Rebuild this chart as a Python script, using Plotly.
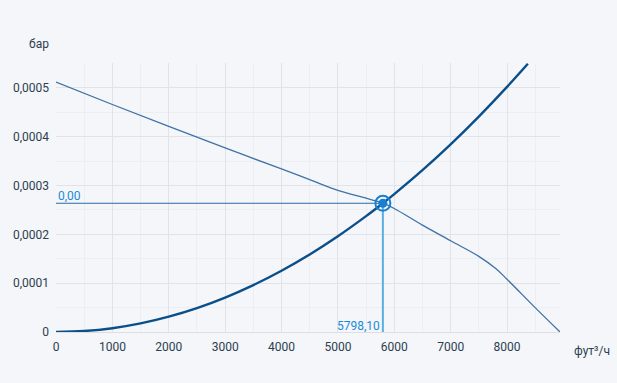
import plotly.graph_objects as go

# Pump curve (flow ft3/h, pressure bar)
pump_x = [0, 1000, 2000, 3000, 4000, 4500, 5000, 5500, 5798.1, 6000, 6500, 7000, 7500, 7800, 8000, 8500, 8940]
pump_y = [0.000512, 0.000466, 0.000421, 0.000377, 0.000334, 0.000312, 0.000290, 0.000274, 0.000264,
          0.000253, 0.000219, 0.000187, 0.000155, 0.000130, 0.000108, 0.000050, 0.0]

# System curve
sys_x = [0, 500, 1000, 1500, 2000, 2500, 3000, 3500, 4000, 4500, 5000, 5500, 5798.1,
         6000, 6500, 7000, 7500, 8000, 8370]
sys_y = [0.0, 0.0000020, 0.0000078, 0.0000176, 0.0000314, 0.0000490, 0.0000706, 0.0000961,
         0.0001255, 0.0001588, 0.0001961, 0.0002373, 0.0002637, 0.0002824, 0.0003314,
         0.0003843, 0.0004412, 0.0005020, 0.0005494]

op_x = 5798.1
op_y = 0.0002637
op_x_label = "5798,10"
op_y_label = "0,00"

y_tick_vals = [0, 0.0001, 0.0002, 0.0003, 0.0004, 0.0005]
y_tick_text = ["0", "0,0001", "0,0002", "0,0003", "0,0004", "0,0005"]
x_tick_vals = [0, 1000, 2000, 3000, 4000, 5000, 6000, 7000, 8000]
x_tick_text = ["0", "1000", "2000", "3000", "4000", "5000", "6000", "7000", "8000"]

x_range = [0, 8940]
y_range = [0, 0.000551]

fig = go.Figure()
fig.add_trace(go.Scatter(x=pump_x, y=pump_y, mode="lines",
                         line=dict(color="#3f72a6", width=1.3, shape="spline", smoothing=1.0),
                         hoverinfo="skip", showlegend=False))
fig.add_trace(go.Scatter(x=sys_x, y=sys_y, mode="lines",
                         line=dict(color="#0b4f8a", width=2.4, shape="spline"),
                         hoverinfo="skip", showlegend=False))
# horizontal guide
fig.add_trace(go.Scatter(x=[0, op_x], y=[op_y, op_y], mode="lines",
                         line=dict(color="#2a6aa8", width=1), showlegend=False, hoverinfo="skip"))
# vertical guide
fig.add_trace(go.Scatter(x=[op_x, op_x], y=[0, op_y], mode="lines",
                         line=dict(color="#5aaee0", width=2), showlegend=False, hoverinfo="skip"))
# operating point
fig.add_trace(go.Scatter(x=[op_x], y=[op_y], mode="markers",
                         marker=dict(size=15, color="rgba(0,0,0,0)",
                                     line=dict(color="#1a7fd0", width=2)),
                         showlegend=False, hoverinfo="skip"))
fig.add_trace(go.Scatter(x=[op_x], y=[op_y], mode="markers",
                         marker=dict(size=9, color="#1a7fd0"),
                         showlegend=False, hoverinfo="skip"))

fig.add_annotation(x=0, y=op_y, text=op_y_label, showarrow=False, xanchor="left", yanchor="bottom",
                   xshift=0, yshift=-2, font=dict(color="#1a8ad8", size=12))
fig.add_annotation(x=op_x, y=0, text=op_x_label, showarrow=False, xanchor="right", yanchor="bottom",
                   xshift=-1, yshift=-3, font=dict(color="#1a8ad8", size=12))
fig.add_annotation(xref="paper", yref="paper", x=-0.034, y=1.071, text="бар", showarrow=False,
                   xanchor="center", yanchor="middle", font=dict(color="#2c3e50", size=12))
fig.add_annotation(xref="paper", yref="paper", x=1.063, y=-0.071, text="фут³/ч", showarrow=False,
                   xanchor="center", yanchor="middle", font=dict(color="#2c3e50", size=12))

fig.update_layout(
    width=617, height=383,
    margin=dict(l=56, r=57, t=63, b=51),
    paper_bgcolor="#f4f6f9", plot_bgcolor="#f4f6f9",
    font=dict(family="Roboto, Arial, sans-serif", size=12, color="#2c3e50"),
    showlegend=False,
    xaxis=dict(range=x_range, tickvals=x_tick_vals, ticktext=x_tick_text, showgrid=True,
               gridcolor="#e1e3e7", gridwidth=1, automargin=False,
               zeroline=False, showline=False, ticks="", ticklabelstandoff=6,
               minor=dict(dtick=500, tick0=0, showgrid=True, gridcolor="#eceef1", gridwidth=1)),
    yaxis=dict(range=y_range, tickvals=y_tick_vals, ticktext=y_tick_text, showgrid=True,
               gridcolor="#e1e3e7", gridwidth=1, automargin=False,
               zeroline=True, zerolinecolor="#dcdee2", zerolinewidth=1, showline=False, ticks="",
               ticklabelstandoff=6,
               minor=dict(dtick=0.00005, tick0=0, showgrid=True, gridcolor="#eceef1", gridwidth=1)),
)

fig.write_html("out.html", config={"displayModeBar": False},
               post_script="document.body.style.margin='0';")
